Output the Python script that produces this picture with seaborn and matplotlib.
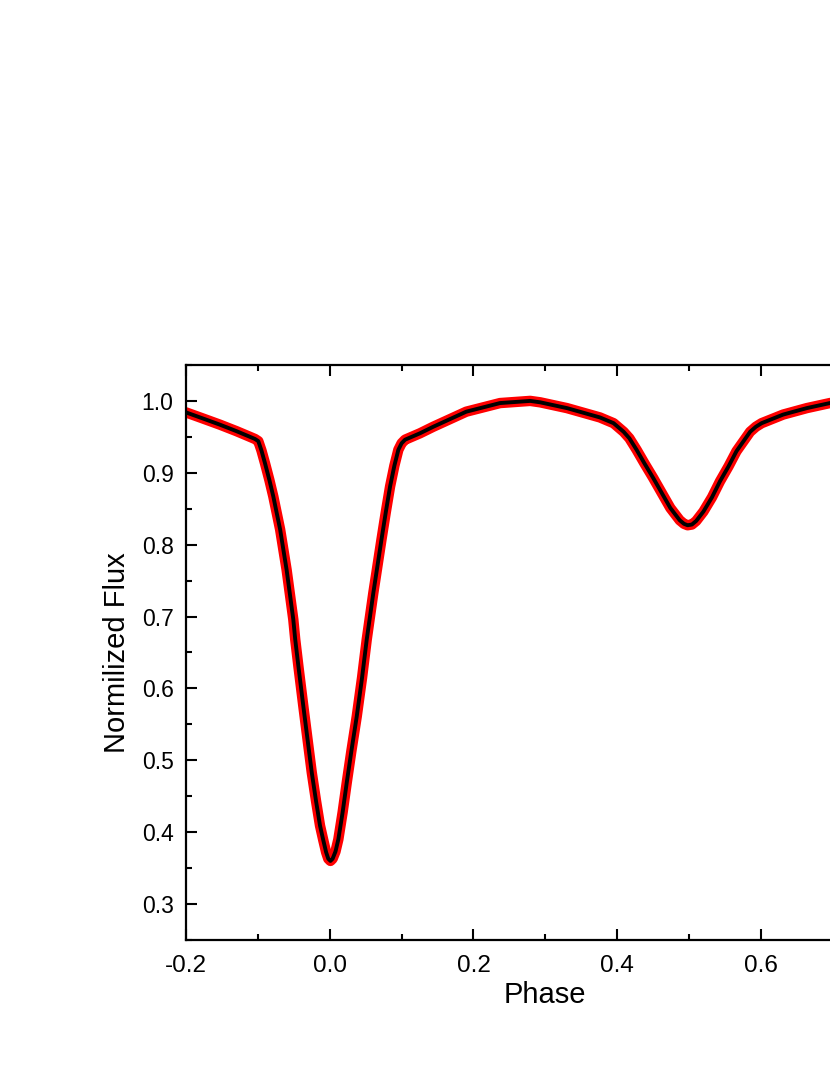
import numpy as np
import pandas as pd
import matplotlib
matplotlib.use("Agg")
import matplotlib.pyplot as plt
import seaborn as sns
from matplotlib.ticker import MultipleLocator

# light curve (phase, normalized flux)
phase = [-0.200, -0.175, -0.153, -0.130, -0.111, -0.104, -0.0994, -0.095,
         -0.090, -0.084, -0.0785, -0.069, -0.060, -0.0507, -0.048, -0.0435,
         -0.0367, -0.031, -0.025, -0.019, -0.0135, -0.009, -0.005, -0.002,
         0.001, 0.004, 0.008, 0.012, 0.018, 0.0237, 0.030, 0.0376, 0.045,
         0.0515, 0.0607, 0.072, 0.078, 0.084, 0.090, 0.0955, 0.100, 0.1048,
         0.1257, 0.144, 0.190, 0.237, 0.279, 0.293, 0.330, 0.376, 0.395,
         0.409, 0.417, 0.427, 0.438, 0.450, 0.462, 0.474, 0.487, 0.493,
         0.498, 0.504, 0.510, 0.520, 0.532, 0.543, 0.555, 0.566, 0.585,
         0.593, 0.601, 0.631, 0.664, 0.696, 0.720]
flux = [0.984, 0.975, 0.967, 0.958, 0.950, 0.947, 0.944, 0.931,
        0.913, 0.890, 0.867, 0.821, 0.765, 0.696, 0.668, 0.630,
        0.575, 0.530, 0.483, 0.443, 0.409, 0.389, 0.372, 0.363,
        0.360, 0.363, 0.373, 0.390, 0.428, 0.469, 0.512, 0.561, 0.615,
        0.668, 0.733, 0.807, 0.845, 0.881, 0.910, 0.932, 0.941, 0.946,
        0.955, 0.964, 0.985, 0.997, 1.000, 0.998, 0.990, 0.977, 0.969,
        0.957, 0.948, 0.932, 0.913, 0.893, 0.872, 0.851, 0.834, 0.829,
        0.827, 0.828, 0.833, 0.846, 0.866, 0.888, 0.909, 0.930, 0.957,
        0.964, 0.969, 0.981, 0.990, 0.997, 1.000]

xticks = [-0.2, 0.0, 0.2, 0.4, 0.6]
xlabels = ["-0.2", "0.0", "0.2", "0.4", "0.6"]
yticks = [0.3, 0.4, 0.5, 0.6, 0.7, 0.8, 0.9, 1.0]
ylabels = ["0.3", "0.4", "0.5", "0.6", "0.7", "0.8", "0.9", "1.0"]

df = pd.DataFrame({"Phase": phase, "Flux": flux})

sns.set_style("ticks")
plt.rcParams["font.family"] = ["Liberation Sans", "DejaVu Sans"]

fig = plt.figure(figsize=(8.3, 10.75), dpi=100)
# axes run past the right edge of the picture, as in the reference
ax = fig.add_axes([0.2241, 0.1256, 0.8658, 0.5349])

# observed (red) and model (black)
sns.lineplot(data=df, x="Phase", y="Flux", sort=False, estimator=None,
             color="#ff0000", linewidth=7.5, ax=ax)
sns.lineplot(data=df, x="Phase", y="Flux", sort=False, estimator=None,
             color="black", linewidth=2.8, ax=ax)

ax.set_xlim(-0.2, 0.8)
ax.set_ylim(0.25, 1.05)
ax.set_xticks(xticks)
ax.set_xticklabels(xlabels)
ax.set_yticks(yticks)
ax.set_yticklabels(ylabels)
ax.xaxis.set_minor_locator(MultipleLocator(0.1))
ax.yaxis.set_minor_locator(MultipleLocator(0.05))

ax.tick_params(which="both", direction="in", top=True, right=True,
               width=1.5, colors="black")
ax.tick_params(which="major", length=8)
ax.tick_params(which="minor", length=4)
ax.tick_params(axis="x", which="major", pad=11, labelsize=17.5)
ax.tick_params(axis="y", which="major", pad=9, labelsize=16.5)
for s in ax.spines.values():
    s.set_linewidth(1.6)
    s.set_color("black")

ax.set_xlabel("Phase", fontsize=21, labelpad=3, color="black")
ax.set_ylabel("Normilized Flux", fontsize=21, labelpad=8, color="black")

fig.savefig("out.png", dpi=100)
